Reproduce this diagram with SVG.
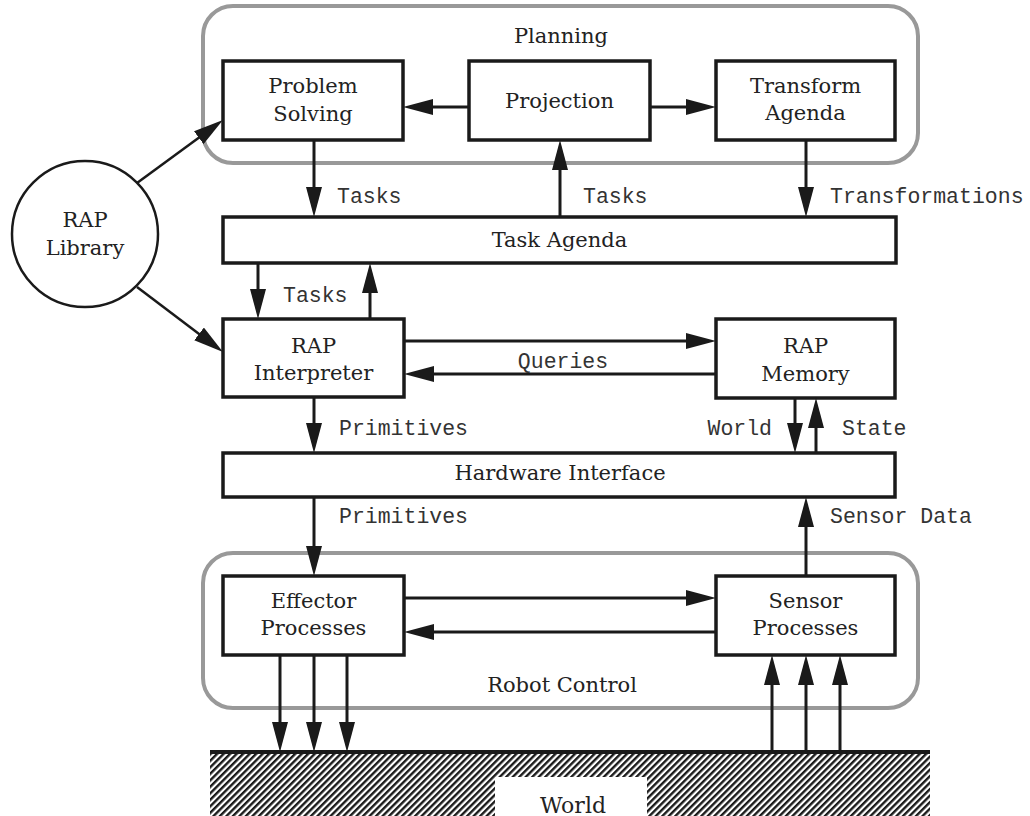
<svg xmlns="http://www.w3.org/2000/svg" width="1030" height="816" viewBox="0 0 1030 816">
  <style>
    .box { fill: #fff; stroke: #1a1a1a; stroke-width: 3.5; }
    .group { fill: none; stroke: #999; stroke-width: 4; }
    .lbl { font-family: "DejaVu Serif", "Liberation Serif", serif; font-size: 21px; fill: #222; text-anchor: middle; }
    .mono { font-family: "Liberation Mono", "DejaVu Sans Mono", monospace; font-size: 21.5px; fill: #333; }
    .link { fill: none; stroke: #1a1a1a; stroke-width: 3; marker-end: url(#ah); }
    .thin { fill: none; stroke: #1a1a1a; stroke-width: 2.5; marker-end: url(#ah); }
  </style>
  <defs>
    <!-- arrowhead: tip sits 8px beyond the end of the line -->
    <marker id="ah" viewBox="0 0 30 16" refX="22" refY="8" markerWidth="30" markerHeight="16" markerUnits="userSpaceOnUse" orient="auto">
      <path d="M0,0 L30,8 L0,16 z" fill="#1a1a1a"/>
    </marker>
    <pattern id="hatch" width="4.6" height="4.6" patternUnits="userSpaceOnUse" patternTransform="rotate(45)">
      <rect width="4.6" height="4.6" fill="#fff"/>
      <line x1="1.2" y1="0" x2="1.2" y2="4.6" stroke="#1a1a1a" stroke-width="2.4"/>
    </pattern>
  </defs>

  <rect width="1030" height="816" fill="#fff"/>

  <!-- Planning layer -->
  <g id="planning">
    <rect class="group" x="203" y="6" width="715" height="157" rx="30"/>
    <text class="lbl" x="561" y="43">Planning</text>
  </g>
  <g id="problem-solving">
    <rect class="box" x="223" y="61" width="180" height="79"/>
    <text class="lbl" x="313" y="93">Problem</text>
    <text class="lbl" x="313" y="121">Solving</text>
  </g>
  <g id="projection">
    <rect class="box" x="469" y="61" width="181" height="79"/>
    <text class="lbl" x="559.5" y="108">Projection</text>
  </g>
  <g id="transform-agenda">
    <rect class="box" x="716" y="61" width="179" height="79"/>
    <text class="lbl" x="805.5" y="93">Transform</text>
    <text class="lbl" x="805.5" y="120">Agenda</text>
  </g>

  <g id="task-agenda">
    <rect class="box" x="223" y="217" width="673" height="46"/>
    <text class="lbl" x="559.5" y="247">Task Agenda</text>
  </g>

  <g id="rap-library">
    <circle cx="85" cy="234" r="73" fill="#fff" stroke="#1a1a1a" stroke-width="2.5"/>
    <text class="lbl" x="85" y="227">RAP</text>
    <text class="lbl" x="85" y="255">Library</text>
  </g>

  <g id="rap-interpreter">
    <rect class="box" x="223" y="319" width="181" height="78"/>
    <text class="lbl" x="313.5" y="353">RAP</text>
    <text class="lbl" x="313.5" y="380">Interpreter</text>
  </g>
  <g id="rap-memory">
    <rect class="box" x="716" y="319" width="179" height="79"/>
    <text class="lbl" x="805.5" y="353">RAP</text>
    <text class="lbl" x="805.5" y="381">Memory</text>
  </g>

  <g id="hardware-interface">
    <rect class="box" x="223" y="453" width="672" height="44"/>
    <text class="lbl" x="560" y="480">Hardware Interface</text>
  </g>

  <!-- Robot control layer -->
  <g id="robot-control">
    <rect class="group" x="203" y="553" width="715" height="155" rx="30"/>
    <text class="lbl" x="562" y="692">Robot Control</text>
  </g>
  <g id="effector-processes">
    <rect class="box" x="223" y="576" width="181" height="79"/>
    <text class="lbl" x="313.5" y="608">Effector</text>
    <text class="lbl" x="313.5" y="635">Processes</text>
  </g>
  <g id="sensor-processes">
    <rect class="box" x="716" y="576" width="179" height="79"/>
    <text class="lbl" x="805.5" y="608">Sensor</text>
    <text class="lbl" x="805.5" y="635">Processes</text>
  </g>

  <!-- World: ground line and hatched earth -->
  <g id="world">
    <rect x="210" y="754" width="720" height="62" fill="url(#hatch)"/>
    <rect x="495" y="777" width="152" height="39" fill="#fff"/>
    <line x1="210" y1="752" x2="930" y2="752" stroke="#1a1a1a" stroke-width="4"/>
    <text class="lbl" x="573" y="813" style="font-size:22px">World</text>
  </g>

  <!-- connectors -->
  <g id="connectors">
    <path class="link" d="M469,107 H411"/>
    <path class="link" d="M650,107 H708"/>
    <path class="link" d="M314,140 V209"/>
    <path class="link" d="M560,217 V148"/>
    <path class="link" d="M806,140 V209"/>
    <path class="thin" d="M137,183 L216.5,124.7"/>
    <path class="thin" d="M137,287 L216.6,347.2"/>
    <path class="link" d="M258,263 V311"/>
    <path class="link" d="M370,319 V271"/>
    <path class="link" d="M404,341 H708"/>
    <path class="link" d="M716,374 H412"/>
    <path class="link" d="M314,397 V445"/>
    <path class="link" d="M795,398 V445"/>
    <path class="link" d="M816,453 V406"/>
    <path class="link" d="M314,497 V568"/>
    <path class="link" d="M806,576 V505"/>
    <path class="link" d="M404,598 H708"/>
    <path class="link" d="M716,632 H412"/>
    <path class="link" d="M280,655 V744"/>
    <path class="link" d="M314,655 V744"/>
    <path class="link" d="M347,655 V744"/>
    <path class="link" d="M772,752 V663"/>
    <path class="link" d="M806,752 V663"/>
    <path class="link" d="M840,752 V663"/>
  </g>

  <!-- connector labels -->
  <g id="labels">
    <text class="mono" x="337" y="203">Tasks</text>
    <text class="mono" x="583" y="203">Tasks</text>
    <text class="mono" x="830" y="203">Transformations</text>
    <text class="mono" x="283" y="302">Tasks</text>
    <text class="mono" x="563" y="368" text-anchor="middle">Queries</text>
    <text class="mono" x="339" y="435">Primitives</text>
    <text class="mono" x="772" y="435" text-anchor="end">World</text>
    <text class="mono" x="842" y="435">State</text>
    <text class="mono" x="339" y="523">Primitives</text>
    <text class="mono" x="830" y="523">Sensor Data</text>
  </g>
</svg>
